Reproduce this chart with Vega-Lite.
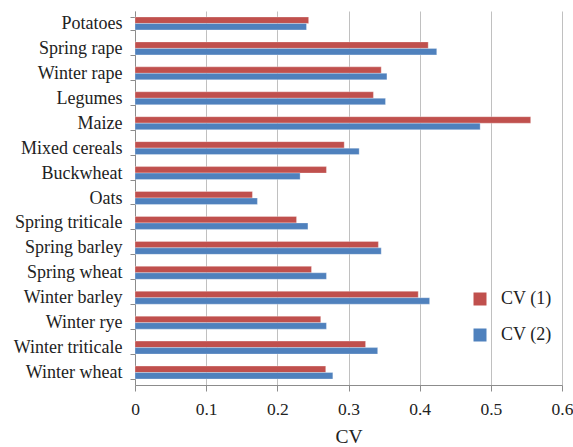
{
  "$schema": "https://vega.github.io/schema/vega-lite/v6.json",
  "width": 427,
  "height": 374,
  "autosize": {"type": "none"},
  "padding": {"left": 135, "top": 11, "right": 11, "bottom": 62},
  "background": "white",
  "config": {
    "font": "Liberation Serif",
    "view": {"stroke": null},
    "axis": {"labelFont": "Liberation Serif", "titleFont": "Liberation Serif", "labelColor": "#222222", "titleColor": "#222222", "domainColor": "#8C8C8C", "tickColor": "#8C8C8C", "gridColor": "#C0C0C0"},
    "legend": {"labelFont": "Liberation Serif"}
  },
  "data": {
    "values": [
      {"crop": "Potatoes", "series": "CV (1)", "cv": 0.244},
      {"crop": "Potatoes", "series": "CV (2)", "cv": 0.241},
      {"crop": "Spring rape", "series": "CV (1)", "cv": 0.412},
      {"crop": "Spring rape", "series": "CV (2)", "cv": 0.424},
      {"crop": "Winter rape", "series": "CV (1)", "cv": 0.346},
      {"crop": "Winter rape", "series": "CV (2)", "cv": 0.354},
      {"crop": "Legumes", "series": "CV (1)", "cv": 0.335},
      {"crop": "Legumes", "series": "CV (2)", "cv": 0.352},
      {"crop": "Maize", "series": "CV (1)", "cv": 0.556},
      {"crop": "Maize", "series": "CV (2)", "cv": 0.485},
      {"crop": "Mixed cereals", "series": "CV (1)", "cv": 0.294},
      {"crop": "Mixed cereals", "series": "CV (2)", "cv": 0.315},
      {"crop": "Buckwheat", "series": "CV (1)", "cv": 0.269},
      {"crop": "Buckwheat", "series": "CV (2)", "cv": 0.232},
      {"crop": "Oats", "series": "CV (1)", "cv": 0.165},
      {"crop": "Oats", "series": "CV (2)", "cv": 0.172},
      {"crop": "Spring triticale", "series": "CV (1)", "cv": 0.227},
      {"crop": "Spring triticale", "series": "CV (2)", "cv": 0.243},
      {"crop": "Spring barley", "series": "CV (1)", "cv": 0.342},
      {"crop": "Spring barley", "series": "CV (2)", "cv": 0.346},
      {"crop": "Spring wheat", "series": "CV (1)", "cv": 0.248},
      {"crop": "Spring wheat", "series": "CV (2)", "cv": 0.269},
      {"crop": "Winter barley", "series": "CV (1)", "cv": 0.398},
      {"crop": "Winter barley", "series": "CV (2)", "cv": 0.414},
      {"crop": "Winter rye", "series": "CV (1)", "cv": 0.261},
      {"crop": "Winter rye", "series": "CV (2)", "cv": 0.269},
      {"crop": "Winter triticale", "series": "CV (1)", "cv": 0.324},
      {"crop": "Winter triticale", "series": "CV (2)", "cv": 0.341},
      {"crop": "Winter wheat", "series": "CV (1)", "cv": 0.268},
      {"crop": "Winter wheat", "series": "CV (2)", "cv": 0.278}
    ]
  },
  "mark": {"type": "bar", "strokeWidth": 0.6, "strokeOpacity": 0.5, "stroke": "white"},
  "encoding": {
    "y": {
      "field": "crop",
      "type": "nominal",
      "sort": null,
      "scale": {"paddingInner": 0.48, "paddingOuter": 0.24},
      "axis": {"title": null, "labelFontSize": 18, "tickBand": "extent", "tickSize": 5, "labelPadding": 8, "grid": false, "domain": true}
    },
    "yOffset": {"field": "series", "type": "nominal", "sort": ["CV (1)", "CV (2)"]},
    "x": {
      "field": "cv",
      "type": "quantitative",
      "scale": {"domain": [0, 0.6], "nice": false},
      "axis": {"title": "CV", "titleFontSize": 19.5, "titleFontWeight": "normal", "titlePadding": 10, "values": [0, 0.1, 0.2, 0.3, 0.4, 0.5, 0.6], "format": "~g", "labelFontSize": 17.5, "labelFlush": false, "tickSize": 6, "labelPadding": 9, "grid": true}
    },
    "color": {
      "field": "series",
      "type": "nominal",
      "scale": {"domain": ["CV (1)", "CV (2)"], "range": ["#C0504D", "#4F81BD"]},
      "legend": {"title": null, "orient": "none", "legendX": 336, "legendY": 279, "symbolType": "square", "symbolSize": 169, "symbolStrokeWidth": 0, "labelFont": "Liberation Serif", "labelFontSize": 18, "labelColor": "#222222", "labelOffset": 12, "rowPadding": 18}
    }
  }
}
